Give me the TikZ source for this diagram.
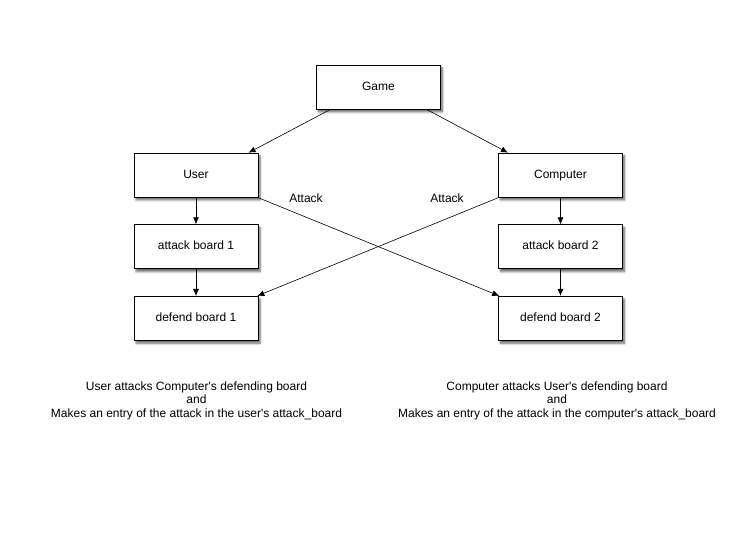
\documentclass[tikz,border=0pt]{standalone}
\usepackage{fontspec}
\setmainfont{Liberation Sans}
\usetikzlibrary{positioning, arrows.meta, shadows.blur}
\tikzset{
  box/.style={
    draw,
    rectangle,
    line width=0.6pt,
    minimum width=124pt,
    minimum height=44pt,
    text height=8.6pt,
    text depth=2.5pt,
    align=center,
    fill=white,
    blur shadow={shadow xshift=2pt, shadow yshift=-3pt, shadow blur steps=6, shadow opacity=60}
  },
  link/.style={
    line width=0.6pt,
    -{Latex[length=7pt, width=6pt]}
  },
  note/.style={
    align=center,
    font=\fontsize{12}{13.5}\selectfont
  }
}

\begin{document}
\begin{tikzpicture}[x=1pt, y=-1pt, font=\fontsize{12}{14}\selectfont]
    \useasboundingbox (0,0) rectangle (756,553);
    \node[box] (game) at (378.5,87) {Game};
    \node[box] (user) at (196,175) {User};
    \node[box] (computer) at (560.5,175) {Computer};
    \node[box, below=27pt of user] (attack1) {attack board 1};
    \node[box, below=27pt of attack1] (defend1) {defend board 1};
    \node[box, below=27pt of computer] (attack2) {attack board 2};
    \node[box, below=27pt of attack2] (defend2) {defend board 2};

    \draw[link] (game.205) -- (user.23);
    \draw[link] (game.335) -- (computer.157);
    \draw[link] (user) -- (attack1);
    \draw[link] (attack1) -- (defend1);
    \draw[link] (computer) -- (attack2);
    \draw[link] (attack2) -- (defend2);
    \draw[link] (user.340) -- (defend2.160);
    \draw[link] (computer.200) -- (defend1.20);

    \node (atk1) at (306,198) {Attack};
    \node (atk2) at (447,198) {Attack};

    \node[note] (note1) at (196.5,400.5) {User attacks Computer\textquotesingle s defending board\\and\\Makes an entry of the attack in the user\textquotesingle s attack\_board};
    \node[note] (note2) at (557,400.5) {Computer attacks User\textquotesingle s defending board\\and\\Makes an entry of the attack in the computer\textquotesingle s attack\_board};
\end{tikzpicture}
\end{document}
